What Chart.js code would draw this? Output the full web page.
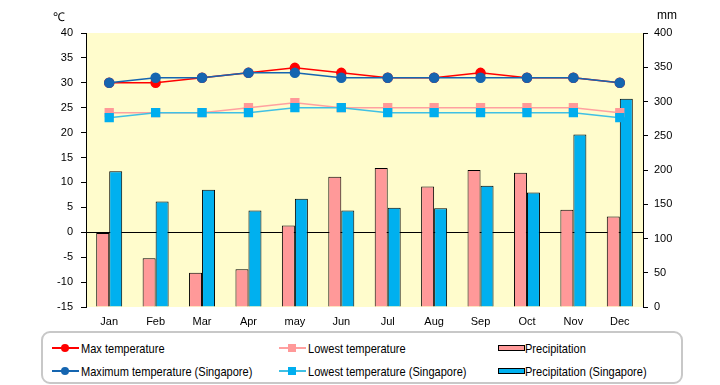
<!DOCTYPE html>
<html>
<head>
<meta charset="utf-8">
<script src="https://cdn.jsdelivr.net/npm/chart.js@4/dist/chart.umd.min.js"></script>
<style>
  body { margin: 0; background: #fff; }
  #wrap { position: relative; width: 720px; height: 385px; font-family: "Liberation Sans", Arial, sans-serif; }
  #chart { position: absolute; left: 0; top: 0; }
  .unit { position: absolute; top: 8px; font-size: 12px; color: #000; }
  #legend { position: absolute; left: 41px; top: 331px; width: 638px; height: 49px;
            border: 2px solid #c8c8c8; border-radius: 9px; background: #fff; }
  .item { position: absolute; height: 14px; display: flex; align-items: center; }
  .item span { font-size: 13px; transform: scaleX(0.85); transform-origin: left center; white-space: nowrap; }
  .icon { position: relative; width: 27px; height: 12px; margin-right: 2px; }
</style>
</head>
<body>
<div id="wrap">
  <canvas id="chart" width="720" height="385"></canvas>
  <div class="unit" style="left:53px;">℃</div>
  <div class="unit" style="left:657px;">mm</div>
  <div id="legend"></div>
</div>
<script>
// データ
const months = ['Jan', 'Feb', 'Mar', 'Apr', 'may', 'Jun', 'Jul', 'Aug', 'Sep', 'Oct', 'Nov', 'Dec'];
const maxTemp = [30, 30, 31, 32, 33, 32, 31, 31, 32, 31, 31, 30];
const minTemp = [24, 24, 24, 25, 26, 25, 25, 25, 25, 25, 25, 24];
const rain = [108, 71, 50, 55, 119, 190, 203, 176, 200, 196, 142, 132];
const sgMaxTemp = [30, 31, 31, 32, 32, 31, 31, 31, 31, 31, 31, 30];
const sgMinTemp = [23, 24, 24, 24, 25, 25, 24, 24, 24, 24, 24, 23];
const sgRain = [198, 154, 171, 141, 158, 141, 145, 144, 177, 167, 252, 304];

const tickFont = { family: '"Liberation Sans Narrow", "Liberation Sans", Arial, sans-serif', size: 11 };

// チャートエリアの背景色
const plotBg = {
    id: 'plotBg',
    beforeDraw(chart) {
        const { ctx, chartArea: a } = chart;
        ctx.save();
        ctx.fillStyle = '#FFFCCC';
        ctx.fillRect(a.left, a.top, a.right - a.left, a.bottom - a.top);
        ctx.restore();
    }
};

const datasets = [
    { type: 'line', label: 'Maximum temperature (Singapore)', data: sgMaxTemp, yAxisID: 'y', order: 1,
      borderColor: '#1565B0', backgroundColor: '#1565B0', borderWidth: 1.5, pointStyle: 'circle', pointRadius: 4.5 },
    { type: 'line', label: 'Lowest temperature (Singapore)', data: sgMinTemp, yAxisID: 'y', order: 1,
      borderColor: '#3FC0E4', backgroundColor: '#00AEEF', borderWidth: 1.5, pointStyle: 'rect', pointRadius: 5.5 },
    { type: 'line', label: 'Max temperature', data: maxTemp, yAxisID: 'y', order: 2,
      borderColor: '#FF0000', backgroundColor: '#FF0000', borderWidth: 1.5, pointStyle: 'circle', pointRadius: 4.5 },
    { type: 'line', label: 'Lowest temperature', data: minTemp, yAxisID: 'y', order: 2,
      borderColor: '#FFA0A0', backgroundColor: '#FF9999', borderWidth: 1.5, pointStyle: 'rect', pointRadius: 5.5 },
    { type: 'bar', label: 'Precipitation', data: rain, yAxisID: 'y1', order: 3,
      backgroundColor: '#FF9999', borderColor: '#000', borderWidth: 1, borderSkipped: 'bottom' },
    { type: 'bar', label: 'Precipitation (Singapore)', data: sgRain, yAxisID: 'y1', order: 3,
      backgroundColor: '#00B0EF', borderColor: '#000', borderWidth: 1, borderSkipped: 'bottom' }
];
datasets.forEach(ds => {
    if (ds.type === 'line') {
        ds.pointBorderColor = ds.backgroundColor;
        ds.tension = 0;
    } else {
        ds.categoryPercentage = 0.56;
        ds.barPercentage = 1;
    }
});

const chart = new Chart(document.getElementById('chart'), {
    data: { labels: months, datasets: datasets },
    options: {
        responsive: false,
        animation: false,
        layout: { padding: { top: 33, bottom: 53, left: 0, right: 0 } },
        plugins: { legend: { display: false }, tooltip: { enabled: false } },
        scales: {
            x: {
                grid: { display: false },
                border: { display: false },
                ticks: { color: '#000', font: tickFont, padding: 0, maxRotation: 0 },
                afterFit(s) { s.height = 25; }
            },
            y: {
                position: 'left',
                min: -15, max: 40,
                z: 1,
                ticks: { stepSize: 5, color: '#000', font: tickFont, padding: 8 },
                grid: {
                    color: c => c.tick && c.tick.value === 0 ? '#000' : 'rgba(0,0,0,0)',
                    tickColor: '#000', tickLength: 5, lineWidth: 1
                },
                border: { display: true, color: '#000', width: 1 },
                afterFit(s) { s.width = 86; }
            },
            y1: {
                position: 'right',
                min: 0, max: 400,
                ticks: { stepSize: 50, color: '#000', font: tickFont, padding: 6 },
                grid: { drawOnChartArea: false, tickColor: '#000', tickLength: 5 },
                border: { display: true, color: '#000', width: 1 },
                afterFit(s) { s.width = 77; }
            }
        }
    },
    plugins: [plotBg]
});

// 凡例 (HTML)
const legendEl = document.getElementById('legend');
const legendLayout = [
    { label: 'Max temperature', x: 9, y: 8 },
    { label: 'Lowest temperature', x: 236, y: 8 },
    { label: 'Precipitation', x: 455, y: 8 },
    { label: 'Maximum temperature (Singapore)', x: 9, y: 31 },
    { label: 'Lowest temperature (Singapore)', x: 236, y: 31 },
    { label: 'Precipitation (Singapore)', x: 455, y: 31 }
];
legendLayout.forEach(pos => {
    const ds = datasets.find(d => d.label === pos.label);
    const item = document.createElement('div');
    item.className = 'item';
    item.style.left = pos.x + 'px';
    item.style.top = pos.y + 'px';
    let icon;
    if (ds.type === 'line') {
        const radius = ds.pointStyle === 'circle' ? '50%' : '0';
        const mark = `<div style="position:absolute;left:9px;top:2px;width:8px;height:8px;border-radius:${radius};background:${ds.backgroundColor}"></div>`;
        icon = `<div class="icon"><div style="position:absolute;left:0;top:5px;width:27px;height:1.5px;background:${ds.borderColor}"></div>${mark}</div>`;
    } else {
        icon = `<div class="icon" style="margin-right:0"><div style="position:absolute;left:0;top:3px;width:25px;height:4px;border:1px solid #000;background:${ds.backgroundColor}"></div></div>`;
    }
    item.innerHTML = icon + `<span>${ds.label}</span>`;
    legendEl.appendChild(item);
});
</script>
</body>
</html>
